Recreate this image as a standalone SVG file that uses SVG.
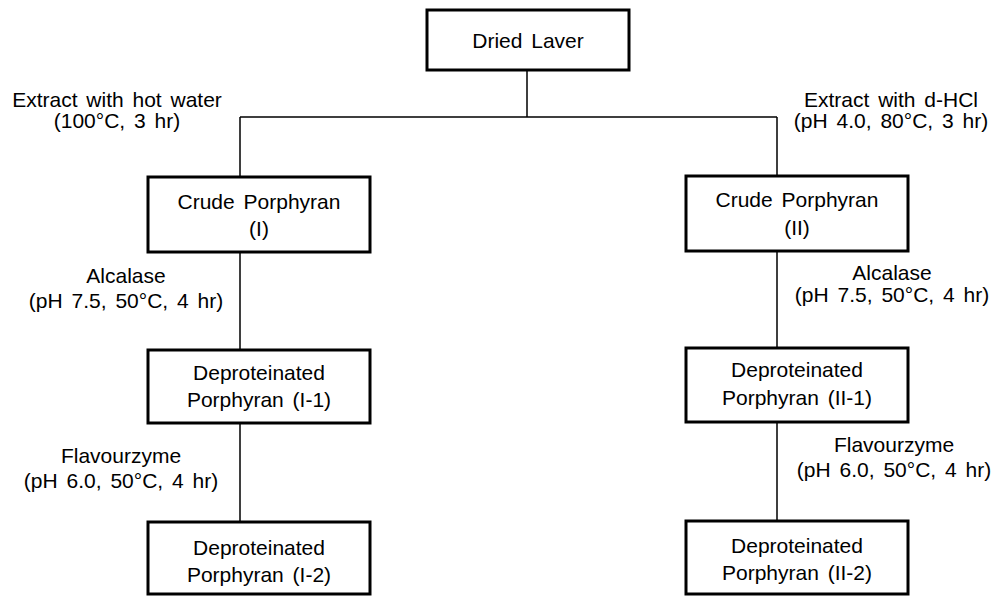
<svg xmlns="http://www.w3.org/2000/svg" width="995" height="597" viewBox="0 0 995 597">
<style>
.box{fill:#fff;stroke:#000;stroke-width:3}
.ln{stroke:#000;stroke-width:1.5;fill:none}
text{font-family:"Liberation Sans",Arial,sans-serif;font-size:21px;fill:#000;text-anchor:middle;word-spacing:3px}
</style>
<rect width="995" height="597" fill="#fff"/>
<g id="connectors">
<path class="ln" d="M527 70V117M240 117H777M240 117V177M777 117V176"/>
<path class="ln" d="M240 252V350M240 423V522"/>
<path class="ln" d="M777 251V348M777 422V521"/>
</g>
<g id="labels">
<text x="117" y="107">Extract with hot water</text>
<text x="117" y="128">(100°C, 3 hr)</text>
<text x="891" y="107">Extract with d-HCl</text>
<text x="891" y="128">(pH 4.0, 80°C, 3 hr)</text>
<text x="126" y="283">Alcalase</text>
<text x="126" y="308">(pH 7.5, 50°C, 4 hr)</text>
<text x="892" y="280">Alcalase</text>
<text x="892" y="302">(pH 7.5, 50°C, 4 hr)</text>
<text x="121" y="463">Flavourzyme</text>
<text x="121" y="488">(pH 6.0, 50°C, 4 hr)</text>
<text x="894" y="452">Flavourzyme</text>
<text x="894" y="477">(pH 6.0, 50°C, 4 hr)</text>
</g>
<g id="dried-laver">
<rect class="box" x="427" y="10" width="202" height="60"/>
<text x="528" y="48">Dried Laver</text>
</g>
<g id="crude-I">
<rect class="box" x="148" y="177" width="222" height="75"/>
<text x="259" y="209">Crude Porphyran</text>
<text x="259" y="236">(I)</text>
</g>
<g id="crude-II">
<rect class="box" x="686" y="176" width="222" height="75"/>
<text x="797" y="207">Crude Porphyran</text>
<text x="797" y="235">(II)</text>
</g>
<g id="deprot-I-1">
<rect class="box" x="148" y="350" width="222" height="73"/>
<text x="259" y="380">Deproteinated</text>
<text x="259" y="407">Porphyran (I-1)</text>
</g>
<g id="deprot-II-1">
<rect class="box" x="686" y="348" width="222" height="74"/>
<text x="797" y="377">Deproteinated</text>
<text x="797" y="405">Porphyran (II-1)</text>
</g>
<g id="deprot-I-2">
<rect class="box" x="148" y="522" width="222" height="72"/>
<text x="259" y="555">Deproteinated</text>
<text x="259" y="582">Porphyran (I-2)</text>
</g>
<g id="deprot-II-2">
<rect class="box" x="686" y="521" width="222" height="73"/>
<text x="797" y="553">Deproteinated</text>
<text x="797" y="580">Porphyran (II-2)</text>
</g>
</svg>
